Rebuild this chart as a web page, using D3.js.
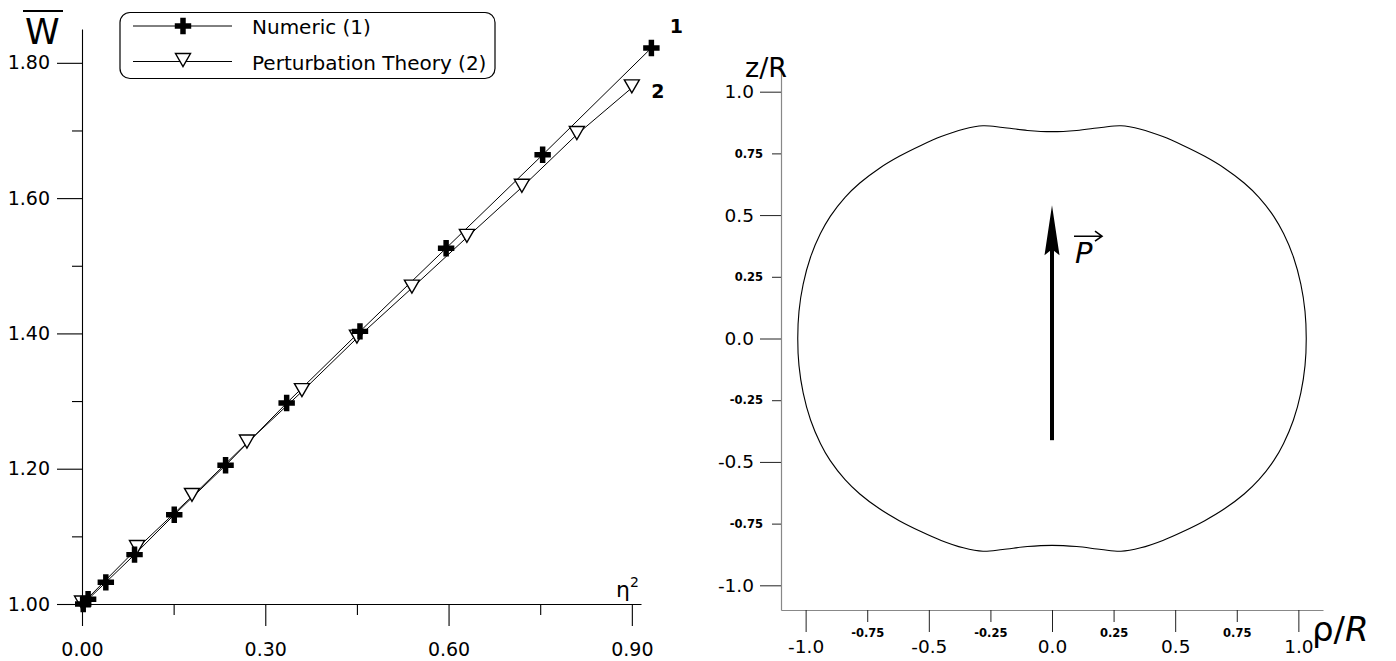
<!DOCTYPE html>
<html>
<head>
<meta charset="utf-8">
<script src="https://cdn.jsdelivr.net/npm/d3@7"></script>
<style>
body{margin:0;background:#fff;}
svg text{font-family:"DejaVu Sans",sans-serif;fill:#000;}
</style>
</head>
<body>
<svg id="chart" width="1396" height="661"></svg>
<script>
// left panel: mean W versus eta^2
const numEta2 = [0.002, 0.010, 0.039, 0.086, 0.151, 0.235, 0.335, 0.455, 0.596, 0.754, 0.932];
const numW    = [1.000, 1.007, 1.032, 1.073, 1.132, 1.205, 1.297, 1.403, 1.526, 1.664, 1.822];
const ptEta2  = [0.00, 0.09, 0.18, 0.27, 0.36, 0.45, 0.54, 0.63, 0.72, 0.81, 0.90];
const ptW     = [1.000, 1.082, 1.159, 1.238, 1.314, 1.393, 1.467, 1.542, 1.616, 1.694, 1.763];
const leftXMajor = [0.0, 0.3, 0.6, 0.9];
const leftXMinor = [0.15, 0.45, 0.75];
const leftYMajor = [1.0, 1.2, 1.4, 1.6, 1.8];
const leftYMinor = [1.1, 1.3, 1.5, 1.7];
const legendLabels = ["Numeric (1)", "Perturbation Theory (2)"];
const curveTags = ["1", "2"];

// right panel: drop contour (rho/R, z/R) and dipole arrow
const contourRho = [0, 0.1, 0.2, 0.28, 0.36, 0.45, 0.53, 0.62, 0.70, 0.78, 0.84, 0.90, 0.94, 0.98, 1.01, 1.027, 1.032,
  1.027, 1.01, 0.98, 0.94, 0.90, 0.84, 0.78, 0.70, 0.62, 0.53, 0.45, 0.36, 0.28, 0.2, 0.1,
  0, -0.1, -0.2, -0.28, -0.36, -0.45, -0.53, -0.62, -0.70, -0.78, -0.84, -0.90, -0.94, -0.98, -1.01, -1.027, -1.032,
  -1.027, -1.01, -0.98, -0.94, -0.90, -0.84, -0.78, -0.70, -0.62, -0.53, -0.45, -0.36, -0.28, -0.2, -0.1];
const contourZ = [0.838, 0.843, 0.855, 0.862, 0.848, 0.818, 0.783, 0.738, 0.690, 0.630, 0.572, 0.495, 0.425, 0.33, 0.22, 0.11, 0,
  -0.11, -0.22, -0.33, -0.425, -0.495, -0.572, -0.630, -0.690, -0.738, -0.783, -0.818, -0.848, -0.862, -0.855, -0.843,
  -0.838, -0.843, -0.855, -0.862, -0.848, -0.818, -0.783, -0.738, -0.690, -0.630, -0.572, -0.495, -0.425, -0.33, -0.22, -0.11, 0,
  0.11, 0.22, 0.33, 0.425, 0.495, 0.572, 0.630, 0.690, 0.738, 0.783, 0.818, 0.848, 0.862, 0.855, 0.843];
const arrowZ = [-0.412, 0.54];
const rightMajor = [-1.0, -0.5, 0.0, 0.5, 1.0];
const rightMinor = [-0.75, -0.25, 0.25, 0.75];

const svg = d3.select("#chart");
svg.append("rect").attr("width",1396).attr("height",661).attr("fill","#fff");

// ---------- left panel ----------
const x = d3.scaleLinear().domain([0, 0.915]).range([82, 641]);
const y = d3.scaleLinear().domain([1.0, 1.85]).range([604, 29]);
const left = svg.append("g");

const xMaj = left.append("g").attr("transform","translate(0,"+y(1.0)+")")
  .call(d3.axisBottom(x).tickValues(leftXMajor).tickSize(22).tickSizeOuter(0).tickPadding(17).tickFormat(d3.format(".2f")));
const xMin = left.append("g").attr("transform","translate(0,"+y(1.0)+")")
  .call(d3.axisBottom(x).tickValues(leftXMinor).tickSize(11).tickFormat(""));
const yMaj = left.append("g").attr("transform","translate("+x(0)+",0)")
  .call(d3.axisLeft(y).tickValues(leftYMajor).tickSize(25).tickSizeOuter(0).tickPadding(7).tickFormat(d3.format(".2f")));
const yMin = left.append("g").attr("transform","translate("+x(0)+",0)")
  .call(d3.axisLeft(y).tickValues(leftYMinor).tickSize(10).tickFormat(""));
xMin.select(".domain").remove();
yMin.select(".domain").remove();
[xMaj,xMin,yMaj,yMin].forEach(g=>{
  g.selectAll("path,line").attr("stroke","#000").attr("stroke-width",1.1);
  g.selectAll("text").style("font-size","19px").attr("font-family","DejaVu Sans");
});

// axis titles
left.append("text").attr("x",25).attr("y",44).style("font-size","35px").text("W");
left.append("line").attr("x1",23).attr("x2",63).attr("y1",11).attr("y2",11).attr("stroke","#000").attr("stroke-width",2);
const eta = left.append("text").attr("x",616).attr("y",597).style("font-size","22px");
eta.append("tspan").text("η");
eta.append("tspan").attr("dy",-10).style("font-size","14px").text("2");

const numData = numEta2.map((d,i)=>[d,numW[i]]);
const ptData = ptEta2.map((d,i)=>[d,ptW[i]]);
const line = d3.line().x(d=>x(d[0])).y(d=>y(d[1]));

left.append("path").datum(numData).attr("d",line).attr("fill","none").attr("stroke","#000").attr("stroke-width",1);
left.append("path").datum(ptData).attr("d",line).attr("fill","none").attr("stroke","#000").attr("stroke-width",1);

const triPath = "M-7.5,-8L7.5,-8L0,5Z";
const crossSym = d3.symbol().type(d3.symbolCross).size(150);

left.selectAll("path.tri").data(ptData).enter().append("path").attr("class","tri")
  .attr("transform",d=>"translate("+x(d[0])+","+y(d[1])+")")
  .attr("d",triPath).attr("fill","#fff").attr("stroke","#000").attr("stroke-width",1.4);
left.selectAll("path.crs").data(numData).enter().append("path").attr("class","crs")
  .attr("transform",d=>"translate("+x(d[0])+","+y(d[1])+")")
  .attr("d",crossSym).attr("fill","#000");

// curve tags
const lastNum = numData[numData.length-1], lastPt = ptData[ptData.length-1];
left.append("text").attr("x",x(lastNum[0])+25).attr("y",y(lastNum[1])-15).attr("text-anchor","middle")
  .style("font-size","19px").style("font-weight","bold").text(curveTags[0]);
left.append("text").attr("x",x(lastPt[0])+26).attr("y",y(lastPt[1])+10).attr("text-anchor","middle")
  .style("font-size","19px").style("font-weight","bold").text(curveTags[1]);

// legend
const leg = left.append("g");
leg.append("rect").attr("x",120).attr("y",12.5).attr("width",375).attr("height",66).attr("rx",10)
  .attr("fill","#fff").attr("stroke","#000").attr("stroke-width",1.2);
const rowsY = [26, 61.5];
legendLabels.forEach((lab,i)=>{
  leg.append("line").attr("x1",133).attr("x2",232).attr("y1",rowsY[i]).attr("y2",rowsY[i]).attr("stroke","#000").attr("stroke-width",1);
  if(i===0){
    leg.append("path").attr("transform","translate(183,"+rowsY[i]+")").attr("d",crossSym).attr("fill","#000");
  } else {
    leg.append("path").attr("transform","translate(183,"+(rowsY[i])+")").attr("d",triPath)
      .attr("fill","#fff").attr("stroke","#000").attr("stroke-width",1.4);
  }
  leg.append("text").attr("x",252).attr("y",rowsY[i]+8).style("font-size","20px").text(lab);
});

// ---------- right panel ----------
const xR = d3.scaleLinear().domain([-1.1, 1.1]).range([781, 1323]);
const yR = d3.scaleLinear().domain([-1.1, 1.1]).range([610, 67]);
const right = svg.append("g");
const fmt = d=>d3.format(".1f")(d).replace("−","-");
const fmtMin = d=>String(d).replace("−","-");

const rxMaj = right.append("g").attr("transform","translate(0,"+yR(-1.1)+")")
  .call(d3.axisBottom(xR).tickValues(rightMajor).tickSize(22).tickSizeOuter(0).tickPadding(8).tickFormat(fmt));
const rxMin = right.append("g").attr("transform","translate(0,"+yR(-1.1)+")")
  .call(d3.axisBottom(xR).tickValues(rightMinor).tickSize(12).tickPadding(7).tickFormat(fmtMin));
const ryMaj = right.append("g").attr("transform","translate("+xR(-1.1)+",0)")
  .call(d3.axisLeft(yR).tickValues(rightMajor).tickSize(21).tickSizeOuter(0).tickPadding(6).tickFormat(fmt));
const ryMin = right.append("g").attr("transform","translate("+xR(-1.1)+",0)")
  .call(d3.axisLeft(yR).tickValues(rightMinor).tickSize(9).tickPadding(9).tickFormat(fmtMin));
rxMin.select(".domain").remove();
ryMin.select(".domain").remove();
[rxMaj,rxMin,ryMaj,ryMin].forEach(g=>{
  g.selectAll("line").attr("stroke","#222").attr("stroke-width",1);
  g.selectAll(".domain").attr("stroke","#888").attr("stroke-width",1.2);
});
[rxMaj,ryMaj].forEach(g=>g.selectAll("text").style("font-size","18.5px").attr("font-family","DejaVu Sans"));
[rxMin,ryMin].forEach(g=>g.selectAll("text").style("font-size","11.5px").style("font-weight","bold").attr("font-family","DejaVu Sans"));

right.append("text").attr("x",745).attr("y",77).style("font-size","27px").text("z/R");
const rhoLab = right.append("text").attr("x",1312).attr("y",641).style("font-size","34px");
rhoLab.append("tspan").text("ρ/");
rhoLab.append("tspan").style("font-style","italic").text("R");

// contour
const contour = contourRho.map((r,i)=>[r,contourZ[i]]);
right.append("path").datum(contour)
  .attr("d",d3.line().x(d=>xR(d[0])).y(d=>yR(d[1])).curve(d3.curveCatmullRomClosed))
  .attr("fill","none").attr("stroke","#000").attr("stroke-width",1.1);

// dipole arrow
const ax = xR(0), aTop = yR(arrowZ[1]), aBot = yR(arrowZ[0]);
right.append("line").attr("x1",ax).attr("x2",ax).attr("y1",aBot).attr("y2",aTop+40)
  .attr("stroke","#000").attr("stroke-width",4);
right.append("path").attr("d","M"+ax+","+aTop+"L"+(ax+7.5)+","+(aTop+50)+"L"+ax+","+(aTop+44)+"L"+(ax-7.5)+","+(aTop+50)+"Z")
  .attr("fill","#000");
right.append("text").attr("x",ax+23).attr("y",aTop+58).style("font-size","29px").style("font-style","italic").text("P");
right.append("path").attr("d","M"+(ax+22)+","+(aTop+31)+"L"+(ax+50)+","+(aTop+31)+"M"+(ax+43)+","+(aTop+26)+"L"+(ax+50)+","+(aTop+31)+"L"+(ax+43)+","+(aTop+36))
  .attr("fill","none").attr("stroke","#000").attr("stroke-width",1.6);
</script>
</body>
</html>
